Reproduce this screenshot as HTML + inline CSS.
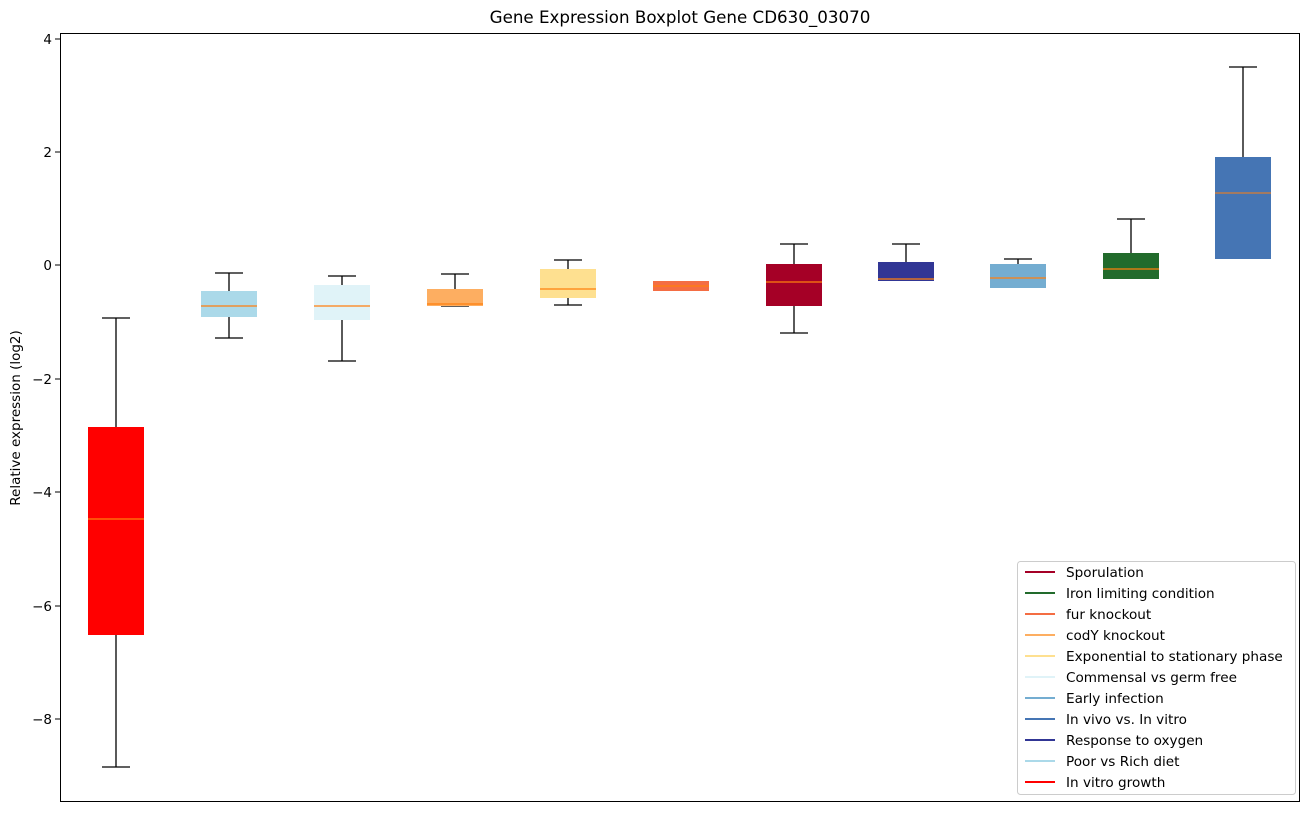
<!DOCTYPE html><html><head><style>body{margin:0;background:#fff}svg{font-family:"DejaVu Sans","Liberation Sans",sans-serif}</style></head><body>
<svg width="1309" height="812" xmlns="http://www.w3.org/2000/svg">
<rect x="0" y="0" width="1309" height="812" fill="#fff"/>
<text x="680" y="23" font-size="16.7" text-anchor="middle">Gene Expression Boxplot Gene CD630_03070</text>
<text transform="translate(20,418) rotate(-90)" font-size="13.5" text-anchor="middle">Relative expression (log2)</text>
<g font-size="13.5" text-anchor="end">
<line x1="55" x2="60" y1="39" y2="39" stroke="#000"/><text x="52" y="44">4</text>
<line x1="55" x2="60" y1="152" y2="152" stroke="#000"/><text x="52" y="157">2</text>
<line x1="55" x2="60" y1="265" y2="265" stroke="#000"/><text x="52" y="270">0</text>
<line x1="55" x2="60" y1="379" y2="379" stroke="#000"/><text x="52" y="384">−2</text>
<line x1="55" x2="60" y1="492" y2="492" stroke="#000"/><text x="52" y="497">−4</text>
<line x1="55" x2="60" y1="606" y2="606" stroke="#000"/><text x="52" y="611">−6</text>
<line x1="55" x2="60" y1="719" y2="719" stroke="#000"/><text x="52" y="724">−8</text>
</g>
<g id="boxes" stroke-width="1.3">
<g><line x1="116" x2="116" y1="318" y2="767" stroke="#000"/><line x1="102" x2="130" y1="318" y2="318" stroke="#000"/><line x1="102" x2="130" y1="767" y2="767" stroke="#000"/><rect x="88" y="427" width="56" height="208" fill="#ff0000"/><line x1="88" x2="144" y1="519" y2="519" stroke="#ff7f0e"/></g>
<g><line x1="229" x2="229" y1="273" y2="338" stroke="#000"/><line x1="215" x2="243" y1="273" y2="273" stroke="#000"/><line x1="215" x2="243" y1="338" y2="338" stroke="#000"/><rect x="201" y="291" width="56" height="26" fill="#abd9e9"/><line x1="201" x2="257" y1="306" y2="306" stroke="#ff7f0e"/></g>
<g><line x1="342" x2="342" y1="276" y2="361" stroke="#000"/><line x1="328" x2="356" y1="276" y2="276" stroke="#000"/><line x1="328" x2="356" y1="361" y2="361" stroke="#000"/><rect x="314" y="285" width="56" height="35" fill="#e0f3f8"/><line x1="314" x2="370" y1="306" y2="306" stroke="#ff7f0e"/></g>
<g><line x1="455" x2="455" y1="274" y2="306" stroke="#000"/><line x1="441" x2="469" y1="274" y2="274" stroke="#000"/><line x1="441" x2="469" y1="306" y2="306" stroke="#000"/><rect x="427" y="289" width="56" height="17" fill="#fdae61"/><line x1="427" x2="483" y1="304" y2="304" stroke="#ff7f0e"/></g>
<g><line x1="568" x2="568" y1="260" y2="305" stroke="#000"/><line x1="554" x2="582" y1="260" y2="260" stroke="#000"/><line x1="554" x2="582" y1="305" y2="305" stroke="#000"/><rect x="540" y="269" width="56" height="29" fill="#fee090"/><line x1="540" x2="596" y1="289" y2="289" stroke="#ff7f0e"/></g>
<g><rect x="653" y="281" width="56" height="10" fill="#f46d43"/><line x1="653" x2="709" y1="286" y2="286" stroke="#ff7f0e"/></g>
<g><line x1="794" x2="794" y1="244" y2="333" stroke="#000"/><line x1="780" x2="808" y1="244" y2="244" stroke="#000"/><line x1="780" x2="808" y1="333" y2="333" stroke="#000"/><rect x="766" y="264" width="56" height="42" fill="#a50026"/><line x1="766" x2="822" y1="282" y2="282" stroke="#ff7f0e"/></g>
<g><line x1="906" x2="906" y1="244" y2="281" stroke="#000"/><line x1="892" x2="920" y1="244" y2="244" stroke="#000"/><rect x="878" y="262" width="56" height="19" fill="#313695"/><line x1="878" x2="934" y1="279" y2="279" stroke="#ff7f0e"/></g>
<g><line x1="1018" x2="1018" y1="259" y2="264" stroke="#000"/><line x1="1004" x2="1032" y1="259" y2="259" stroke="#000"/><rect x="990" y="264" width="56" height="24" fill="#74add1"/><line x1="990" x2="1046" y1="278" y2="278" stroke="#ff7f0e"/></g>
<g><line x1="1131" x2="1131" y1="219" y2="253" stroke="#000"/><line x1="1117" x2="1145" y1="219" y2="219" stroke="#000"/><rect x="1103" y="253" width="56" height="26" fill="#226b2c"/><line x1="1103" x2="1159" y1="269" y2="269" stroke="#ff7f0e"/></g>
<g><line x1="1243" x2="1243" y1="67" y2="157" stroke="#000"/><line x1="1229" x2="1257" y1="67" y2="67" stroke="#000"/><rect x="1215" y="157" width="56" height="102" fill="#4575b4"/><line x1="1215" x2="1271" y1="193" y2="193" stroke="#ff7f0e" stroke-width="1"/></g>
</g>
<rect x="60.5" y="33.5" width="1239" height="768" fill="none" stroke="#000" stroke-width="1"/>
<g font-size="13.6">
<rect x="1017.5" y="561.5" width="278" height="233" rx="3" fill="#fff" stroke="#ccc"/>
<g stroke-width="2">
<line x1="1025" x2="1055" y1="572" y2="572" stroke="#a50026"/>
<line x1="1025" x2="1055" y1="593" y2="593" stroke="#226b2c"/>
<line x1="1025" x2="1055" y1="614" y2="614" stroke="#f46d43"/>
<line x1="1025" x2="1055" y1="635" y2="635" stroke="#fdae61"/>
<line x1="1025" x2="1055" y1="656" y2="656" stroke="#fee090"/>
<line x1="1025" x2="1055" y1="677" y2="677" stroke="#e0f3f8"/>
<line x1="1025" x2="1055" y1="698" y2="698" stroke="#74add1"/>
<line x1="1025" x2="1055" y1="719" y2="719" stroke="#4575b4"/>
<line x1="1025" x2="1055" y1="740" y2="740" stroke="#313695"/>
<line x1="1025" x2="1055" y1="761" y2="761" stroke="#abd9e9"/>
<line x1="1025" x2="1055" y1="782" y2="782" stroke="#ff0000"/>
</g>
<text x="1066" y="577">Sporulation</text>
<text x="1066" y="598">Iron limiting condition</text>
<text x="1066" y="619">fur knockout</text>
<text x="1066" y="640">codY knockout</text>
<text x="1066" y="661">Exponential to stationary phase</text>
<text x="1066" y="682">Commensal vs germ free</text>
<text x="1066" y="703">Early infection</text>
<text x="1066" y="724">In vivo vs. In vitro</text>
<text x="1066" y="745">Response to oxygen</text>
<text x="1066" y="766">Poor vs Rich diet</text>
<text x="1066" y="787">In vitro growth</text>
</g>
</svg></body></html>
